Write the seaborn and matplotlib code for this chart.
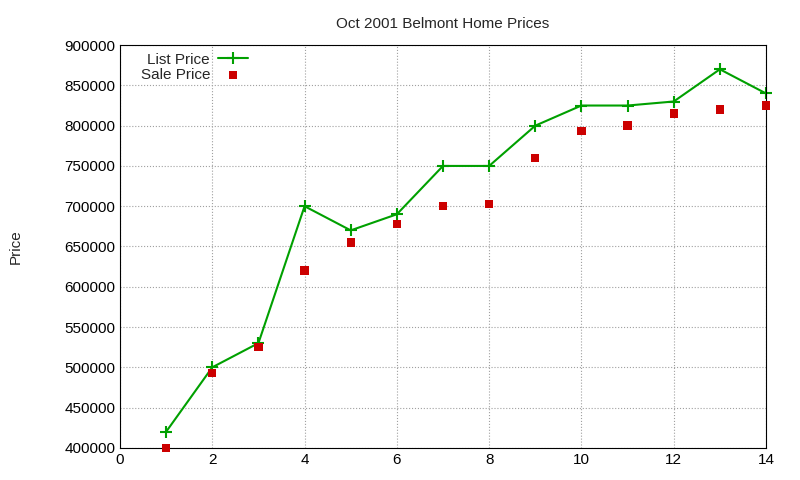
import matplotlib
matplotlib.use("Agg")
import matplotlib.pyplot as plt
import seaborn as sns
import pandas as pd

houses = list(range(1, 15))
list_price = [420000, 500000, 530000, 700000, 670000, 690000, 750000,
              750000, 800000, 825000, 825000, 830000, 870000, 840000]
sale_price = [400000, 493000, 525000, 620000, 655000, 678000, 700000,
              703000, 760000, 793000, 800000, 815000, 820000, 825000]

df = pd.DataFrame({"house": houses, "list": list_price, "sale": sale_price})

sns.set_style("white")
plt.rcParams['font.family'] = ['Liberation Sans', 'DejaVu Sans']

fig = plt.figure(figsize=(8, 4.8), dpi=100)
ax = fig.add_axes([0.15, 0.067, 0.8075, 0.839])

sns.lineplot(data=df, x="house", y="list", ax=ax, color="#00a000", lw=1.5,
             marker="+", markersize=8, markeredgewidth=1.5,
             markeredgecolor="#00a000", label="List Price", clip_on=False)
sns.scatterplot(data=df, x="house", y="sale", ax=ax, color="#cc0000", marker="s",
                s=36, edgecolor="none", label="Sale Price", zorder=3, clip_on=False)

ax.set_xlim(0, 14)
ax.set_ylim(400000, 900000)
ax.set_xticks(range(0, 15, 2))
ax.set_yticks(range(400000, 900001, 50000))
ax.ticklabel_format(style="plain", axis="y")
ax.grid(True, color="#a0a0a0", linestyle=":", lw=0.8)
ax.tick_params(direction="in", labelsize=11, length=5, colors="black")
for s in ax.spines.values():
    s.set_color("black")
    s.set_linewidth(0.8)
ax.set_xlabel("")
ax.set_ylabel("Price", fontsize=11, labelpad=30)
ax.set_title("Oct 2001 Belmont Home Prices", fontsize=11, pad=12)
leg = ax.legend(loc="upper left", markerfirst=False, frameon=False, fontsize=11,
                borderaxespad=0.1, handletextpad=0.5, labelspacing=0.1,
                bbox_to_anchor=(0.02, 1.0))
for h in leg.legend_handles:
    if hasattr(h, "set_markeredgecolor"):
        h.set_markeredgecolor("#00a000")

fig.savefig("out.png", dpi=100)
